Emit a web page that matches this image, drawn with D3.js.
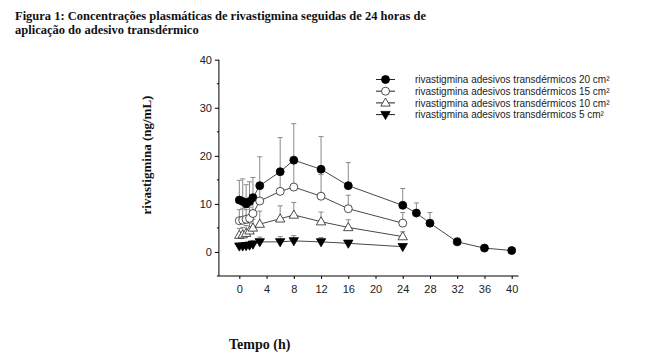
<!DOCTYPE html>
<html><head><meta charset="utf-8">
<script src="https://cdn.jsdelivr.net/npm/d3@7"></script>
<style>body{margin:0;background:#fff}svg{display:block}</style>
</head><body>
<svg id="c" width="661" height="358"></svg>
<script>
const titleLines = ["Figura 1: Concentrações plasmáticas de rivastigmina seguidas de 24 horas de", "aplicação do adesivo transdérmico"];
const xLabel = "Tempo (h)";
const yLabel = "rivastigmina (ng/mL)";
const xTicks = [0,4,8,12,16,20,24,28,32,36,40];
const yTicks = [0,10,20,30,40];
const yMinorTicks = [-5,5,15,25,35];

const times20 = [0,0.5,1,1.5,2,3,6,8,12,16,24,26,28,32,36,40];
const mean20  = [10.8,10.5,10.0,10.5,11.3,13.8,16.7,19.1,17.2,13.8,9.7,8.1,6.0,2.1,0.8,0.3];
const sd20    = [4.1,4.7,4.0,4.1,4.2,6.0,7.1,7.6,6.8,4.8,3.5,2.1,2.2,0.8,0,0];

const timesOther = [0,0.5,1,1.5,2,3,6,8,12,16,24];
const mean15 = [6.5,6.6,6.8,7.0,8.0,10.6,12.6,13.5,11.6,9.0,6.0];
const sd15   = [2.3,2.5,2.0,2.3,2.8,3.5,4.0,5.0,4.5,2.8,2.2];
const mean10 = [3.5,3.6,3.9,4.4,5.0,5.8,6.9,7.7,6.3,5.1,3.2];
const sd10   = [1.4,1.5,1.6,1.6,1.8,2.7,2.7,2.6,2.0,1.6,1.0];
const mean5  = [1.2,1.2,1.3,1.4,1.6,2.1,2.1,2.3,2.1,1.8,1.1];
const sd5    = [0.3,0.3,0.4,0.5,0.8,1.0,1.1,1.1,0.9,0.6,0.4];

const seriesNames = ["rivastigmina adesivos transdérmicos 20 cm²","rivastigmina adesivos transdérmicos 15 cm²","rivastigmina adesivos transdérmicos 10 cm²","rivastigmina adesivos transdérmicos 5 cm²"];
const seriesMarkers = ["circleFilled","circleOpen","triangleOpen","triangleDownFilled"];

const series = [
  {name: seriesNames[0], marker: seriesMarkers[0], t: times20, m: mean20, s: sd20},
  {name: seriesNames[1], marker: seriesMarkers[1], t: timesOther, m: mean15, s: sd15},
  {name: seriesNames[2], marker: seriesMarkers[2], t: timesOther, m: mean10, s: sd10},
  {name: seriesNames[3], marker: seriesMarkers[3], t: timesOther, m: mean5, s: sd5}
];

const svg = d3.select("#c");
const x = d3.scaleLinear().domain([-3, 41]).range([218.9, 518.5]);
const y = d3.scaleLinear().domain([-5, 40]).range([276, 59.7]);

// Title
svg.append("g").selectAll("text").data(titleLines).join("text")
  .attr("x", 15).attr("y", (d,i) => 20 + i*13.5)
  .attr("font-family", "Liberation Serif, Times New Roman, serif")
  .attr("font-weight", "bold").attr("font-size", 12.5)
  .attr("fill", "#111")
  .text(d => d);

// Axes
const yAxis = d3.axisLeft(y).tickValues(yTicks).tickSize(4).tickPadding(3).tickFormat(d3.format("d"));
const gy = svg.append("g").attr("transform", `translate(${x(-3)},0)`).call(yAxis);
gy.select(".domain").attr("stroke", "#000").attr("d", `M0,${y(-5)}V${y(40)}`);
gy.selectAll(".tick line").attr("stroke", "#000");
gy.selectAll(".tick text").attr("font-family", "Liberation Sans, Arial, sans-serif").attr("font-size", 11).attr("fill", "#222");
svg.append("g").selectAll("line").data(yMinorTicks).join("line")
  .attr("x1", x(-3) - 2).attr("x2", x(-3)).attr("y1", d => y(d)).attr("y2", d => y(d)).attr("stroke", "#000");

const xAxis = d3.axisBottom(x).tickValues(xTicks).tickSize(3).tickPadding(6);
const gx = svg.append("g").attr("transform", `translate(0,${y(-5)})`).call(xAxis);
gx.select(".domain").attr("stroke", "#000").attr("d", `M${x(-3)},0H${x(41)}`);
gx.selectAll(".tick line").attr("stroke", "#000");
gx.selectAll(".tick text").attr("font-family", "Liberation Sans, Arial, sans-serif").attr("font-size", 11).attr("fill", "#222");

// Axis labels
svg.append("text").attr("x", 229).attr("y", 349)
  .attr("font-family", "Liberation Serif, Times New Roman, serif").attr("font-weight", "bold").attr("font-size", 14)
  .attr("fill", "#111").text(xLabel);
svg.append("text").attr("transform", "translate(151,155) rotate(-90)").attr("text-anchor", "middle")
  .attr("font-family", "Liberation Serif, Times New Roman, serif").attr("font-weight", "bold").attr("font-size", 13)
  .attr("fill", "#111").text(yLabel);

// marker drawing
const triUp = d3.symbol().type(d3.symbolTriangle).size(38)();
function drawMarker(g, type, cx, cy) {
  if (type === "circleFilled") {
    g.append("circle").attr("cx", cx).attr("cy", cy).attr("r", 4).attr("fill", "#000").attr("stroke", "#000").attr("stroke-width", 0.8);
  } else if (type === "circleOpen") {
    g.append("circle").attr("cx", cx).attr("cy", cy).attr("r", 4).attr("fill", "#fff").attr("stroke", "#222").attr("stroke-width", 0.8);
  } else if (type === "triangleOpen") {
    g.append("path").attr("d", triUp).attr("transform", `translate(${cx},${cy+0.5})`).attr("fill", "#fff").attr("stroke", "#222").attr("stroke-width", 0.8);
  } else {
    g.append("path").attr("d", triUp).attr("transform", `translate(${cx},${cy-0.5}) rotate(180)`).attr("fill", "#000").attr("stroke", "#000").attr("stroke-width", 0.8);
  }
}

// Error bars
const eb = svg.append("g");
series.forEach(s => {
  s.t.forEach((t, i) => {
    if (s.s[i] <= 0) return;
    const cx = x(t), y0 = y(s.m[i]), y1 = y(s.m[i] + s.s[i]);
    eb.append("line").attr("x1", cx).attr("x2", cx).attr("y1", y0).attr("y2", y1).attr("stroke", "#8a8a8a").attr("stroke-width", 1);
    eb.append("line").attr("x1", cx - 2.5).attr("x2", cx + 2.5).attr("y1", y1).attr("y2", y1).attr("stroke", "#8a8a8a").attr("stroke-width", 1);
  });
});

// Lines
const line = d3.line().x(d => x(d[0])).y(d => y(d[1]));
series.forEach(s => {
  svg.append("path").datum(s.t.map((t, i) => [t, s.m[i]]))
    .attr("d", line).attr("fill", "none").attr("stroke", "#333").attr("stroke-width", 0.9);
});

// Markers
const mg = svg.append("g");
series.forEach(s => {
  s.t.forEach((t, i) => drawMarker(mg, s.marker, x(t), y(s.m[i])));
});

// Legend
const lg = svg.append("g");
series.forEach((s, i) => {
  const ly = 79.5 + i * 11.7;
  lg.append("line").attr("x1", 376).attr("x2", 395).attr("y1", ly).attr("y2", ly).attr("stroke", "#222").attr("stroke-width", 1);
  drawMarker(lg, s.marker, 385.5, ly);
  lg.append("text").attr("x", 415).attr("y", ly + 3.6)
    .attr("font-family", "Liberation Sans, Arial, sans-serif").attr("font-size", 10).attr("fill", "#222")
    .text(s.name);
});
</script>
</body></html>
